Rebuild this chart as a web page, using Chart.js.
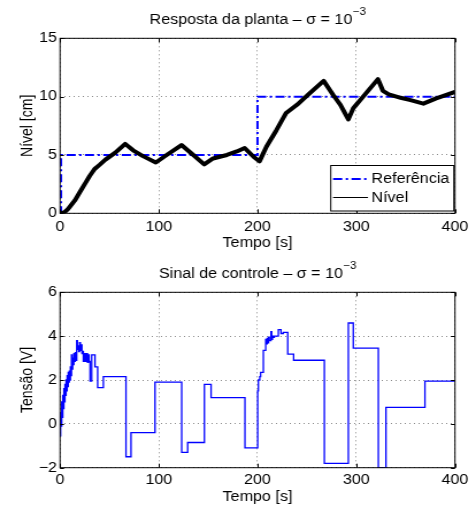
<!DOCTYPE html>
<html>
<head>
<meta charset="utf-8">
<script src="https://cdn.jsdelivr.net/npm/chart.js"></script>
<style>
  body { margin: 0; background: #fff; }
  canvas { position: absolute; left: 0; }
</style>
</head>
<body>
<canvas id="top" width="414" height="262" style="top: 0; width: 476px; height: 262px;"></canvas>
<canvas id="bottom" width="414" height="257" style="top: 250px; width: 476px; height: 257px;"></canvas>
<script>
// figure was exported wider than tall, so draw at 414 wide and let css stretch to 476
const FONT = '"Liberation Sans", Arial, Helvetica, sans-serif';

// Resposta da planta
const refT = [0, 1, 200, 400];
const refV = [0, 5, 10, 10];
const levelT = [0, 4, 8, 15, 20, 25, 30, 35, 40, 46, 56, 66, 74, 84, 97, 108, 123, 135, 146, 155, 169, 179, 187, 196, 202,
  209, 219, 229, 240, 253, 267, 277, 284, 292, 297, 307, 322, 327, 333, 345, 355, 368, 381, 400];
const levelV = [0.05, 0.05, 0.35, 1.1, 1.8, 2.5, 3.2, 3.8, 4.15, 4.6, 5.2, 5.95, 5.4, 4.9, 4.35, 5.0, 5.85, 5.0, 4.2, 4.7, 5.0, 5.3, 5.6, 4.85, 4.45,
  5.7, 7.1, 8.6, 9.3, 10.3, 11.35, 10.1, 9.3, 8.05, 9.0, 10.0, 11.5, 10.5, 10.2, 9.9, 9.7, 9.4, 9.85, 10.4];

// Sinal de controle (held until the next time)
const ctrlT = [0, 0.6, 1.1, 1.7, 2.2, 2.8, 3.3, 3.9, 4.4, 5.0, 5.5, 6.1, 6.6, 7.2, 7.7, 8.3, 8.8, 9.4, 9.9, 10.5,
  11.0, 11.6, 12.2, 12.8, 13.4, 14.0, 14.7, 15.4, 16.1, 16.9, 17.6, 18.4, 19.0, 19.8, 20.6, 21.4, 22.2, 23.0, 23.6, 24.6,
  25.6, 26.9, 27.8, 28.7, 29.5, 30.4, 32.1, 35.4, 38.1, 43.9, 66.8, 71.9, 96.2, 123.2, 129.3, 146.2, 153.0, 187.3,
  200.2, 200.9, 202.3, 203.2, 205.9, 208.3, 209.0, 209.8, 210.5, 211.2, 212.0, 213.7, 214.4, 215.2, 216.0, 217.0,
  221.1, 223.8, 226.2, 230.6, 236.6, 267.7, 292.0, 297.0, 322.4, 330.1, 369.6, 400];
const ctrlV = [-0.55, 0.5, -0.1, 1.0, 0.3, 1.3, 0.7, 1.6, 1.0, 1.8, 1.3, 2.0, 1.5, 2.2, 1.7, 2.35, 1.9, 2.4, 2.0, 2.6,
  2.2, 3.15, 2.5, 3.0, 2.7, 3.2, 2.85, 3.25, 2.9, 3.8, 3.4, 3.55, 3.3, 3.7, 3.35, 3.6, 3.2, 3.3, 2.85, 3.2,
  2.85, 3.2, 2.8, 3.15, 2.85, 1.95, 3.15, 2.6, 1.65, 2.15, -1.5, -0.4, 1.9, -1.3, -0.85, 1.8, 1.2, -1.1,
  1.5, 2.0, 2.15, 2.35, 3.35, 3.85, 3.65, 3.9, 3.7, 3.95, 3.8, 4.2, 3.85, 4.0, 3.95, 4.0,
  4.3, 4.12, 4.17, 3.18, 2.9, -1.8, 4.6, 3.45, -2.0, 0.75, 1.95, 1.95];

const xTicks = [0, 100, 200, 300, 400];
const yTicksTop = [0, 5, 10, 15];
const yTicksBottom = [-2, 0, 2, 4, 6];

const pts = (ts, vs) => ts.map((t, i) => ({ x: t, y: vs[i] }));

const titlePlugin = {
  id: 'matTitle',
  afterDraw(chart, args, opts) {
    const { ctx, chartArea } = chart;
    ctx.save();
    ctx.fillStyle = '#000';
    ctx.textAlign = 'left';
    ctx.textBaseline = 'alphabetic';
    ctx.font = '14px ' + FONT;
    const w1 = ctx.measureText(opts.text).width;
    ctx.font = '10px ' + FONT;
    const w2 = ctx.measureText(opts.sup).width;
    const x = (chartArea.left + chartArea.right) / 2 - (w1 + w2) / 2;
    const y = chartArea.top - 14;
    ctx.font = '14px ' + FONT;
    ctx.fillText(opts.text, x, y);
    ctx.font = '10px ' + FONT;
    ctx.fillText(opts.sup, x + w1 + 0.5, y - 9.5);
    ctx.restore();
  }
};

// matlab style box with inward ticks on all sides
const framePlugin = {
  id: 'matFrame',
  afterDatasetsDraw(chart) {
    const { ctx, chartArea: a, scales: { x, y } } = chart;
    ctx.save();
    ctx.strokeStyle = '#000';
    ctx.lineWidth = 1;
    ctx.beginPath();
    x.ticks.forEach(t => {
      const px = Math.round(x.getPixelForValue(t.value)) + 0.5;
      ctx.moveTo(px, a.bottom); ctx.lineTo(px, a.bottom - 4);
      ctx.moveTo(px, a.top); ctx.lineTo(px, a.top + 4);
    });
    y.ticks.forEach(t => {
      const py = Math.round(y.getPixelForValue(t.value)) + 0.5;
      ctx.moveTo(a.left, py); ctx.lineTo(a.left + 3.5, py);
      ctx.moveTo(a.right, py); ctx.lineTo(a.right - 3.5, py);
    });
    ctx.stroke();
    ctx.strokeRect(a.left, a.top, a.right - a.left, a.bottom - a.top);
    ctx.restore();
  }
};

const legendPlugin = {
  id: 'matLegend',
  afterDraw(chart) {
    const { ctx, chartArea: a } = chart;
    const right = a.right - 1, bottom = a.bottom - 2.3;
    const left = right - 107, top = bottom - 45.5;
    ctx.save();
    ctx.fillStyle = '#fff';
    ctx.fillRect(left, top, right - left, bottom - top);
    ctx.strokeStyle = '#000';
    ctx.lineWidth = 1;
    ctx.strokeRect(left, top, right - left, bottom - top);
    const ds = chart.data.datasets;
    const rows = [top + 13.5, top + 32];
    ds.forEach((d, i) => {
      ctx.beginPath();
      ctx.strokeStyle = d.borderColor;
      ctx.lineWidth = i === 0 ? 2 : 1;
      ctx.setLineDash(d.borderDash || []);
      ctx.moveTo(left + 2, rows[i]);
      ctx.lineTo(left + 32.4, rows[i]);
      ctx.stroke();
      ctx.setLineDash([]);
      ctx.fillStyle = '#000';
      ctx.font = '14px ' + FONT;
      ctx.textBaseline = 'middle';
      ctx.textAlign = 'left';
      ctx.fillText(d.label, left + 35.4, rows[i] + 0.5);
    });
    ctx.restore();
  }
};

const font = { family: FONT, size: 14 };
const minus = v => String(v).replace('-', '\u2212');

function xScale(pad) {
  return {
    type: 'linear', min: 0, max: 400,
    afterBuildTicks: s => { s.ticks = xTicks.map(v => ({ value: v })); },
    ticks: { padding: pad, color: '#000', font, maxRotation: 0, autoSkip: false, callback: minus },
    grid: { color: '#8a8a8a', drawTicks: false },
    border: { display: false, dash: [1, 3] },
    title: { display: true, text: 'Tempo [s]', color: '#000', font, padding: { top: 0, bottom: 0 } },
    afterFit: s => { s.height = 38; }
  };
}

function yScale(min, max, ticks, label) {
  return {
    min, max,
    afterBuildTicks: s => { s.ticks = ticks.map(v => ({ value: v })); },
    ticks: { padding: 2.6, color: '#000', font, callback: minus },
    grid: { color: '#8a8a8a', drawTicks: false },
    border: { display: false, dash: [1, 3] },
    title: { display: true, text: label, color: '#000', font, padding: { top: 15.3, bottom: 0 } },
    afterFit: s => { s.width = 52.2; }
  };
}

new Chart(document.getElementById('top'), {
  type: 'line',
  data: {
    datasets: [
      { label: 'Referência', data: pts(refT, refV), borderColor: '#0000ff', borderWidth: 2,
        borderDash: [8, 3, 2, 3], stepped: true, pointRadius: 0, order: 1 },
      { label: 'Nível', data: pts(levelT, levelV), borderColor: '#000000', borderWidth: 4,
        borderJoinStyle: 'round', pointRadius: 0, order: 0 }
    ]
  },
  options: {
    responsive: false, animation: false, events: [],
    layout: { padding: { left: 0, right: 18.3, top: 38.3, bottom: 10.7 } },
    plugins: {
      legend: { display: false }, tooltip: { enabled: false },
      matTitle: { text: 'Resposta da planta \u2013 \u03c3 = 10', sup: '\u22123' }
    },
    scales: { x: xScale(5), y: yScale(0, 15, yTicksTop, 'Nível [cm]') }
  },
  plugins: [titlePlugin, framePlugin, legendPlugin]
});

new Chart(document.getElementById('bottom'), {
  type: 'line',
  data: {
    datasets: [
      { label: 'Tensão', data: pts(ctrlT, ctrlV), borderColor: '#0000ff', borderWidth: 1.3,
        stepped: true, pointRadius: 0 }
    ]
  },
  options: {
    responsive: false, animation: false, events: [],
    layout: { padding: { left: 0, right: 18.3, top: 42.3, bottom: 1.3 } },
    plugins: {
      legend: { display: false }, tooltip: { enabled: false },
      matTitle: { text: 'Sinal de controle \u2013 \u03c3 = 10', sup: '\u22123' }
    },
    scales: { x: xScale(3.6), y: yScale(-2, 6, yTicksBottom, 'Tensão [V]') }
  },
  plugins: [titlePlugin, framePlugin]
});
</script>
</body>
</html>
